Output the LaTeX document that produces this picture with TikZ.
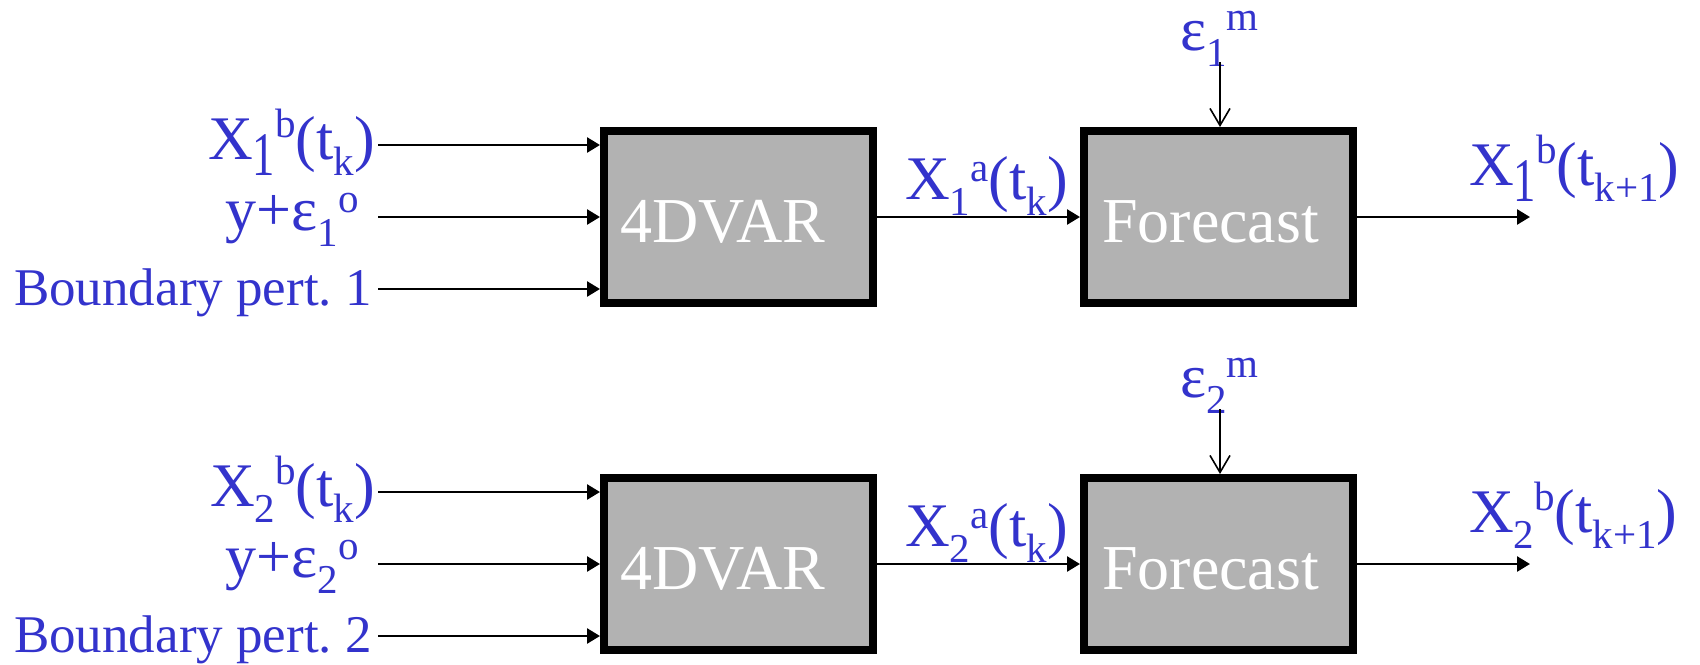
\documentclass[tikz,border=0pt]{standalone}
\usepackage{fontspec}
\setmainfont{Liberation Serif}
\usepackage{graphicx}
\usetikzlibrary{arrows.meta}
\definecolor{lblue}{RGB}{51,51,204}
\definecolor{boxgray}{RGB}{178,178,178}
% lowered / raised indices in the labels
\newcommand\lowr[1]{\raisebox{-16pt}{\fontsize{41}{41}\selectfont #1}}
\newcommand\highr[2][20]{\raisebox{#1pt}{\fontsize{41}{41}\selectfont #2}}
\newcommand\tallone{\raisebox{-16pt}{\scalebox{0.72}[1]{1}}}
\begin{document}
\begin{tikzpicture}[x=1pt,y=-1pt,
  proc/.style={draw=black, line width=8pt, fill=boxgray,
    minimum width=269pt, minimum height=172pt, inner sep=0pt},
  proctext/.style={text=white, font=\fontsize{64}{70}\selectfont, inner sep=0pt},
  lbl/.style={text=lblue, font=\fontsize{62}{70}\selectfont, inner sep=0pt},
  smalllbl/.style={text=lblue, font=\fontsize{53}{60}\selectfont, inner sep=0pt},
  flow/.style={line width=2.6pt, -{Triangle[length=13pt,width=15pt]}},
  noise/.style={line width=1.6pt, -{Straight Barb[length=17pt,width=20pt,line width=1.6pt]}}
]
\useasboundingbox (0,0) rectangle (1700,664);

\foreach \r/\dy/\xsub in {1/0/\tallone, 2/347/\lowr{2}} {
  % processing boxes
  \node[proc] (A\r) at (738.5,217+\dy) {};
  \node[proc] (F\r) at (1218.5,217+\dy) {};
  \node[proctext, anchor=base west] (At\r) at (620,242+\dy) {4DVAR};
  \node[proctext, anchor=base west] (Ft\r) at (1102,242+\dy) {Forecast};

  % inputs of the assimilation
  \node[lbl, anchor=base east] (xb\r) at (375,159+\dy) {X\xsub\highr[22]{b}(t\lowr{k})};
  \node[lbl, anchor=base east] (obs\r) at (359,230+\dy) {y+ε\lowr{\r}\highr[18]{o}};
  \node[smalllbl, anchor=base east] (bd\r) at (372,305+\dy) {Boundary pert.\ \r};
  \coordinate (ia\r) at (378,145+\dy);
  \coordinate (ib\r) at (378,217+\dy);
  \coordinate (ic\r) at (378,289+\dy);
  \draw[flow] (ia\r) -- (ia\r -| A\r.west);
  \draw[flow] (ib\r) -- (ib\r -| A\r.west);
  \draw[flow] (ic\r) -- (ic\r -| A\r.west);

  % analysis passed to the forecast
  \node[lbl, anchor=base west] (xa\r) at (905,199+\dy) {X\lowr{\r}\highr[18]{a}(t\lowr{k})};
  \draw[flow] (A\r.east) -- (F\r.west);

  % model error
  \node[lbl, anchor=base west] (em\r) at (1180,50+\dy) {ε\lowr{\r}\highr[20]{m}};
  \coordinate (n\r) at (1220,62+\dy);
  \draw[noise] (n\r) -- (n\r |- F\r.north);

  % forecast output
  \node[lbl, anchor=base west] (xf\r) at (1469,185+\dy) {X\xsub\highr[22]{b}(t\lowr{k+1})};
  \coordinate (o\r) at (1530,217+\dy);
  \draw[flow] (F\r.east) -- (o\r);
}
\end{tikzpicture}
\end{document}
